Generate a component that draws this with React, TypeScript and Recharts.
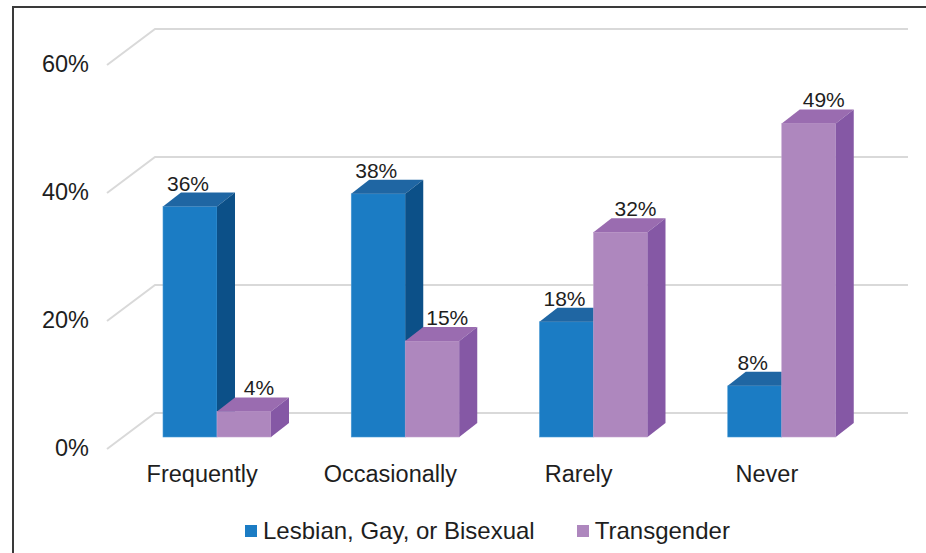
import React from 'react';
import { BarChart, Bar, XAxis, YAxis, CartesianGrid, LabelList, Legend } from 'recharts';

const categories = ['Frequently', 'Occasionally', 'Rarely', 'Never'];
const lgbValues = [36, 38, 18, 8];
const transValues = [4, 15, 32, 49];
const yTicks = [0, 20, 40, 60];
const seriesNames = ['Lesbian, Gay, or Bisexual', 'Transgender'];

const data = categories.map((c, i) => ({ category: c, lgb: lgbValues[i], trans: transValues[i] }));

const FONT = '"Liberation Sans", Arial, sans-serif';
const TEXT = '#1e1e1e';

// 3D projection offsets
const DEPTH_DX = 18;
const DEPTH_DY = 14;
const FLOOR_DX = -16;
const FLOOR_DY = 12;
const BACK_DX = 32;
const BACK_DY = -24;

const COLORS = {
  lgb: { front: '#1b7cc4', top: '#1f66a3', side: '#0c5088', edge: '#4a9ad6' },
  trans: { front: '#ae87be', top: '#9a6cb0', side: '#8558a5', edge: '#c3a3d0' },
};

type FaceColors = { front: string; top: string; side: string; edge: string };

const makeShape = (c: FaceColors) => (props: any) => {
  const { x, y, width: w, height: h } = props;
  if (w == null || h == null || isNaN(x) || isNaN(y)) return <g />;
  return (
    <g>
      <rect x={x} y={y} width={w} height={h} fill={c.front} stroke={c.edge} strokeWidth={0.6} />
      <polygon
        points={`${x},${y} ${x + DEPTH_DX},${y - DEPTH_DY} ${x + w + DEPTH_DX},${y - DEPTH_DY} ${x + w},${y}`}
        fill={c.top}
      />
      <polygon
        points={`${x + w},${y} ${x + w + DEPTH_DX},${y - DEPTH_DY} ${x + w + DEPTH_DX},${y + h - DEPTH_DY} ${x + w},${y + h}`}
        fill={c.side}
      />
    </g>
  );
};

const gridLine = (props: any) => {
  const { x1, x2, y1, index } = props;
  return (
    <polyline
      key={`g-${index}-${y1}`}
      points={`${x1 + FLOOR_DX},${y1 + FLOOR_DY} ${x1 + BACK_DX},${y1 + BACK_DY} ${x2 + BACK_DX},${y1 + BACK_DY}`}
      fill="none"
      stroke="#d9d9d9"
      strokeWidth={2}
    />
  );
};

const YTick = (props: any) => {
  const { x, y, payload } = props;
  return (
    <text x={x + FLOOR_DX - 18} y={y + FLOOR_DY + 7} textAnchor="end" fontSize={23.5} fill={TEXT} fontFamily={FONT}>
      {payload.value}%
    </text>
  );
};

const XTick = (props: any) => {
  const { x, y, payload } = props;
  return (
    <text x={x + FLOOR_DX + 1} y={y + 45} textAnchor="middle" fontSize={23.5} fill={TEXT} fontFamily={FONT}>
      {payload.value}
    </text>
  );
};

const makeLabel = (shift: number) => (props: any) => {
  const { x, y, width, value } = props;
  return (
    <text x={x + width / 2 + shift} y={y - 16} textAnchor="middle" fontSize={21} fill={TEXT} fontFamily={FONT}>
      {value}%
    </text>
  );
};

const LegendContent = () => (
  <div
    style={{
      display: 'flex',
      alignItems: 'center',
      fontFamily: FONT,
      fontSize: 24,
      color: TEXT,
      height: 28,
      lineHeight: '28px',
      whiteSpace: 'nowrap',
    }}
  >
    <span style={{ width: 12, height: 12, background: COLORS.lgb.front, display: 'inline-block', marginRight: 6 }} />
    <span>{seriesNames[0]}</span>
    <span
      style={{ width: 12, height: 12, background: COLORS.trans.front, display: 'inline-block', marginLeft: 42, marginRight: 6 }}
    />
    <span>{seriesNames[1]}</span>
  </div>
);

export default function App() {
  return (
    <div style={{ position: 'absolute', left: 0, top: 0, width: 926, height: 553, background: '#fff', overflow: 'hidden' }}>
      <div
        style={{
          position: 'absolute',
          left: 12,
          top: 6,
          right: -4,
          bottom: -4,
          borderTop: '2px solid #3a3a3a',
          borderLeft: '2px solid #3a3a3a',
        }}
      />
      <BarChart
        width={926}
        height={553}
        data={data}
        margin={{ top: 53, right: 50, bottom: 0, left: 23 }}
        barGap={0}
        barSize={54}
        style={{ position: 'absolute', left: 0, top: 0 }}
      >
        <CartesianGrid vertical={false} horizontal={gridLine} />
        <XAxis
          dataKey="category"
          height={116}
          tickLine={false}
          axisLine={false}
          tickSize={0}
          tickMargin={0}
          tick={<XTick />}
          interval={0}
        />
        <YAxis
          domain={[0, 60]}
          ticks={yTicks}
          width={100}
          tickLine={false}
          axisLine={false}
          tickSize={0}
          tickMargin={0}
          tick={<YTick />}
        />
        <Legend
          verticalAlign="middle"
          align="center"
          layout="horizontal"
          content={<LegendContent />}
          wrapperStyle={{ left: 245, top: 517, width: 'auto' }}
        />
        <Bar dataKey="lgb" name={seriesNames[0]} fill={COLORS.lgb.front} shape={makeShape(COLORS.lgb)} isAnimationActive={false}>
          <LabelList dataKey="lgb" content={makeLabel(-2)} />
        </Bar>
        <Bar dataKey="trans" name={seriesNames[1]} fill={COLORS.trans.front} shape={makeShape(COLORS.trans)} isAnimationActive={false}>
          <LabelList dataKey="trans" content={makeLabel(15)} />
        </Bar>
      </BarChart>
    </div>
  );
}
